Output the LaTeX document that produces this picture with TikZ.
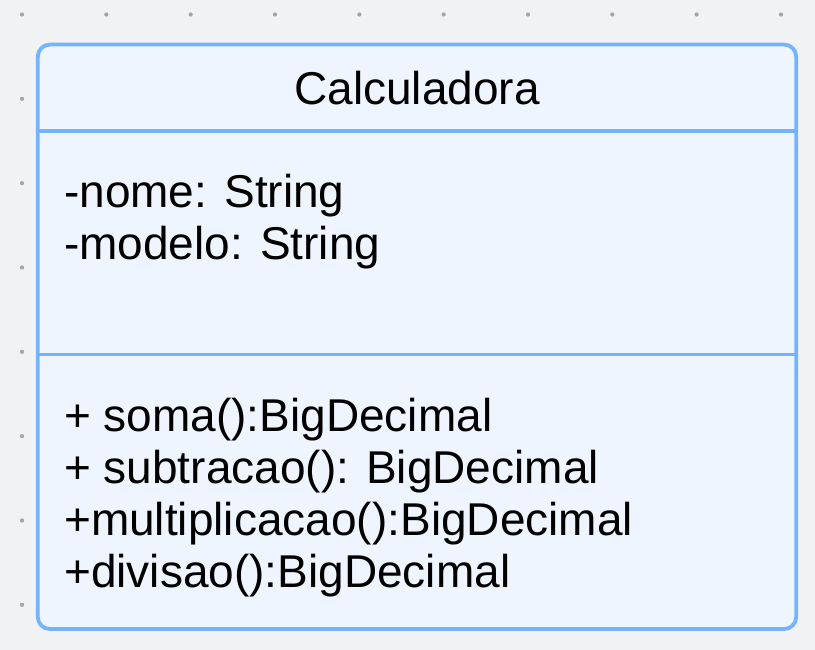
\documentclass[tikz,border=0pt]{standalone}
\usepackage{fontspec}
\setmainfont{Liberation Sans}
\definecolor{bgc}{HTML}{F1F2F4}
\definecolor{dotc}{HTML}{A3A5A8}
\definecolor{edgec}{HTML}{74B4FF}
\definecolor{fillc}{HTML}{EEF5FF}
\tikzset{
  umltext/.style={anchor=base west, inner sep=0pt, font=\fontsize{46}{52}\selectfont, text=black},
  umltitle/.style={anchor=base, inner sep=0pt, font=\fontsize{46}{52}\selectfont, text=black},
  umlbox/.style={draw=edgec, fill=fillc, line width=3.8pt, rounded corners=12pt},
  umlsep/.style={draw=edgec, line width=3.8pt},
  griddot/.style={fill=dotc}
}
\begin{document}
\begin{tikzpicture}[x=1pt,y=-1pt]
\useasboundingbox (0,0) rectangle (815,650);
\fill[bgc] (0,0) rectangle (815,650);
\foreach \i in {0,...,9}{
  \foreach \j in {0,...,7}{
    \fill[griddot] ({22+84.33*\i},{14.5+84.33*\j}) circle (2.1pt);
  }
}
\draw[umlbox] (37.8,44.6) rectangle (796.2,629);
\coordinate (s1l) at (37.8,131);
\coordinate (s1r) at (796.2,131);
\coordinate (s2l) at (37.8,354.5);
\coordinate (s2r) at (796.2,354.5);
\draw[umlsep] (s1l) -- (s1r);
\draw[umlsep] (s2l) -- (s2r);
\node[umltitle] (title) at (417,105) {Calculadora};
\node[umltext] (a1) at (64,207.5) {-nome: String};
\node[umltext] (a2) at (64,259) {-modelo: String};
\node[umltext] (m1) at (64,431.5) {+ soma():BigDecimal};
\node[umltext] (m2) at (64,483) {+ subtracao(): BigDecimal};
\node[umltext] (m3) at (64,535) {+multiplicacao():BigDecimal};
\node[umltext] (m4) at (64,587) {+divisao():BigDecimal};
\end{tikzpicture}
\end{document}
